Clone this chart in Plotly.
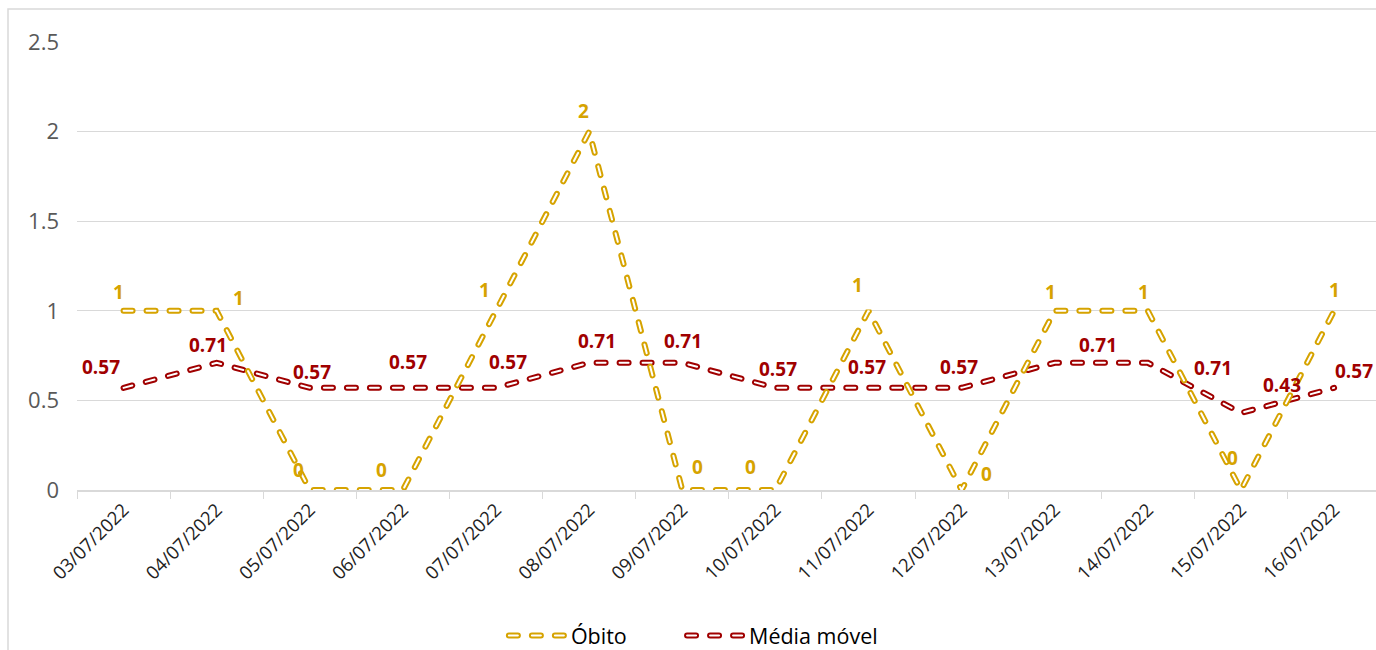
import plotly.graph_objects as go

datas = ["03/07/2022", "04/07/2022", "05/07/2022", "06/07/2022", "07/07/2022",
         "08/07/2022", "09/07/2022", "10/07/2022", "11/07/2022", "12/07/2022",
         "13/07/2022", "14/07/2022", "15/07/2022", "16/07/2022"]
obitos = [1, 1, 0, 0, 1, 2, 0, 0, 1, 0, 1, 1, 0, 1]
media_movel = [0.57, 0.71, 0.57, 0.57, 0.57, 0.71, 0.71, 0.57, 0.57, 0.57, 0.71, 0.71, 0.43, 0.57]

# deslocamento (px) dos rótulos de dados em relação ao ponto
desl_obito = [(-5, 19), (22, 13), (-11, 20), (-21, 20), (-12, 21), (-6, 21), (15, 23),
              (-25, 23), (-11, 26), (25, 16), (-4, 19), (-4, 19), (-8, 32), (0, 21)]
desl_media = [(-23, 21), (-9, 18), (2, 16), (5, 26), (12, 26), (8, 22), (1, 22),
              (3, 19), (-2, 21), (-3, 21), (43, 18), (65, -5), (41, 28), (20, 17)]

AMARELO = "#D6A300"
VERMELHO = "#A00000"
DASH = "9px,14px"
ESPACO = "\u00a0" * 9  # afasta os itens da legenda

fig = go.Figure()


def linha_oca(y, cor, nome, desl):
    # linha tracejada "oca" estilo Excel: traço largo colorido + traço fino branco por cima
    fig.add_trace(go.Scatter(
        x=datas, y=y, name=nome, mode="lines",
        line=dict(color=cor, width=6, dash=DASH),
    ))
    fig.add_trace(go.Scatter(
        x=datas, y=y, mode="lines", showlegend=False, hoverinfo="skip",
        line=dict(color="white", width=2, dash=DASH),
    ))
    for xi, yi, (dx, dy) in zip(datas, y, desl):
        fig.add_annotation(x=xi, y=yi, text="<b>%s</b>" % yi, showarrow=False,
                           xshift=dx, yshift=dy,
                           font=dict(family="Open Sans", size=19, color=cor))


linha_oca(media_movel, VERMELHO, "Média móvel", desl_media)
linha_oca(obitos, AMARELO, "Óbito" + ESPACO, desl_obito)

# moldura do gráfico
fig.add_shape(type="rect", xref="paper", yref="paper",
              x0=(8 - 77) / 1299, x1=1.05, y0=-0.4, y1=1 + 33 / 448,
              line=dict(color="#D9D9D9", width=1.5), fillcolor="rgba(0,0,0,0)", layer="below")

fig.update_layout(
    width=1376, height=650,
    margin=dict(l=77, r=0, t=42, b=160, autoexpand=False),
    plot_bgcolor="white", paper_bgcolor="white",
    font=dict(family="Open Sans", color="#595959"),
    showlegend=True,
    legend=dict(orientation="h", x=0.4745, xanchor="center", y=-0.325, yanchor="middle",
                font=dict(size=21.5, color="#000000"), itemwidth=57,
                traceorder="reversed"),
    xaxis=dict(
        range=[-0.5, 13.45], tickangle=-45, tickson="boundaries",
        ticks="outside", ticklen=7, tickcolor="#D9D9D9",
        showline=True, linecolor="#D9D9D9", linewidth=1.5,
        showgrid=False, automargin=False, tickfont=dict(size=18.5, color="#222222"),
    ),
    yaxis=dict(
        range=[0, 2.5], tickvals=[0, 0.5, 1, 1.5, 2, 2.5],
        ticktext=["0", "0.5", "1", "1.5", "2", "2.5"],
        showgrid=True, gridcolor="#D9D9D9", gridwidth=1.2,
        zeroline=False, ticks="", ticklabelstandoff=17, automargin=False,
        tickfont=dict(size=22, color="#595959"),
    ),
)

# sem margem da página, pontas arredondadas nos traços e traço oco também na legenda
js = """
var s = document.createElement('style');
s.textContent = 'body { margin: 0 !important; } path.js-line { stroke-linecap: round !important; }';
document.head.appendChild(s);
document.querySelectorAll('.legendlines').forEach(function (g) {
  var p = g.querySelector('path.js-line');
  if (!p || g.querySelector('.oco')) return;
  var c = p.cloneNode(true);
  c.classList.add('oco');
  c.style.stroke = 'white';
  c.style.strokeWidth = '2px';
  g.appendChild(c);
});
"""

fig.write_html("out.html", post_script=js, config={"displayModeBar": False})
